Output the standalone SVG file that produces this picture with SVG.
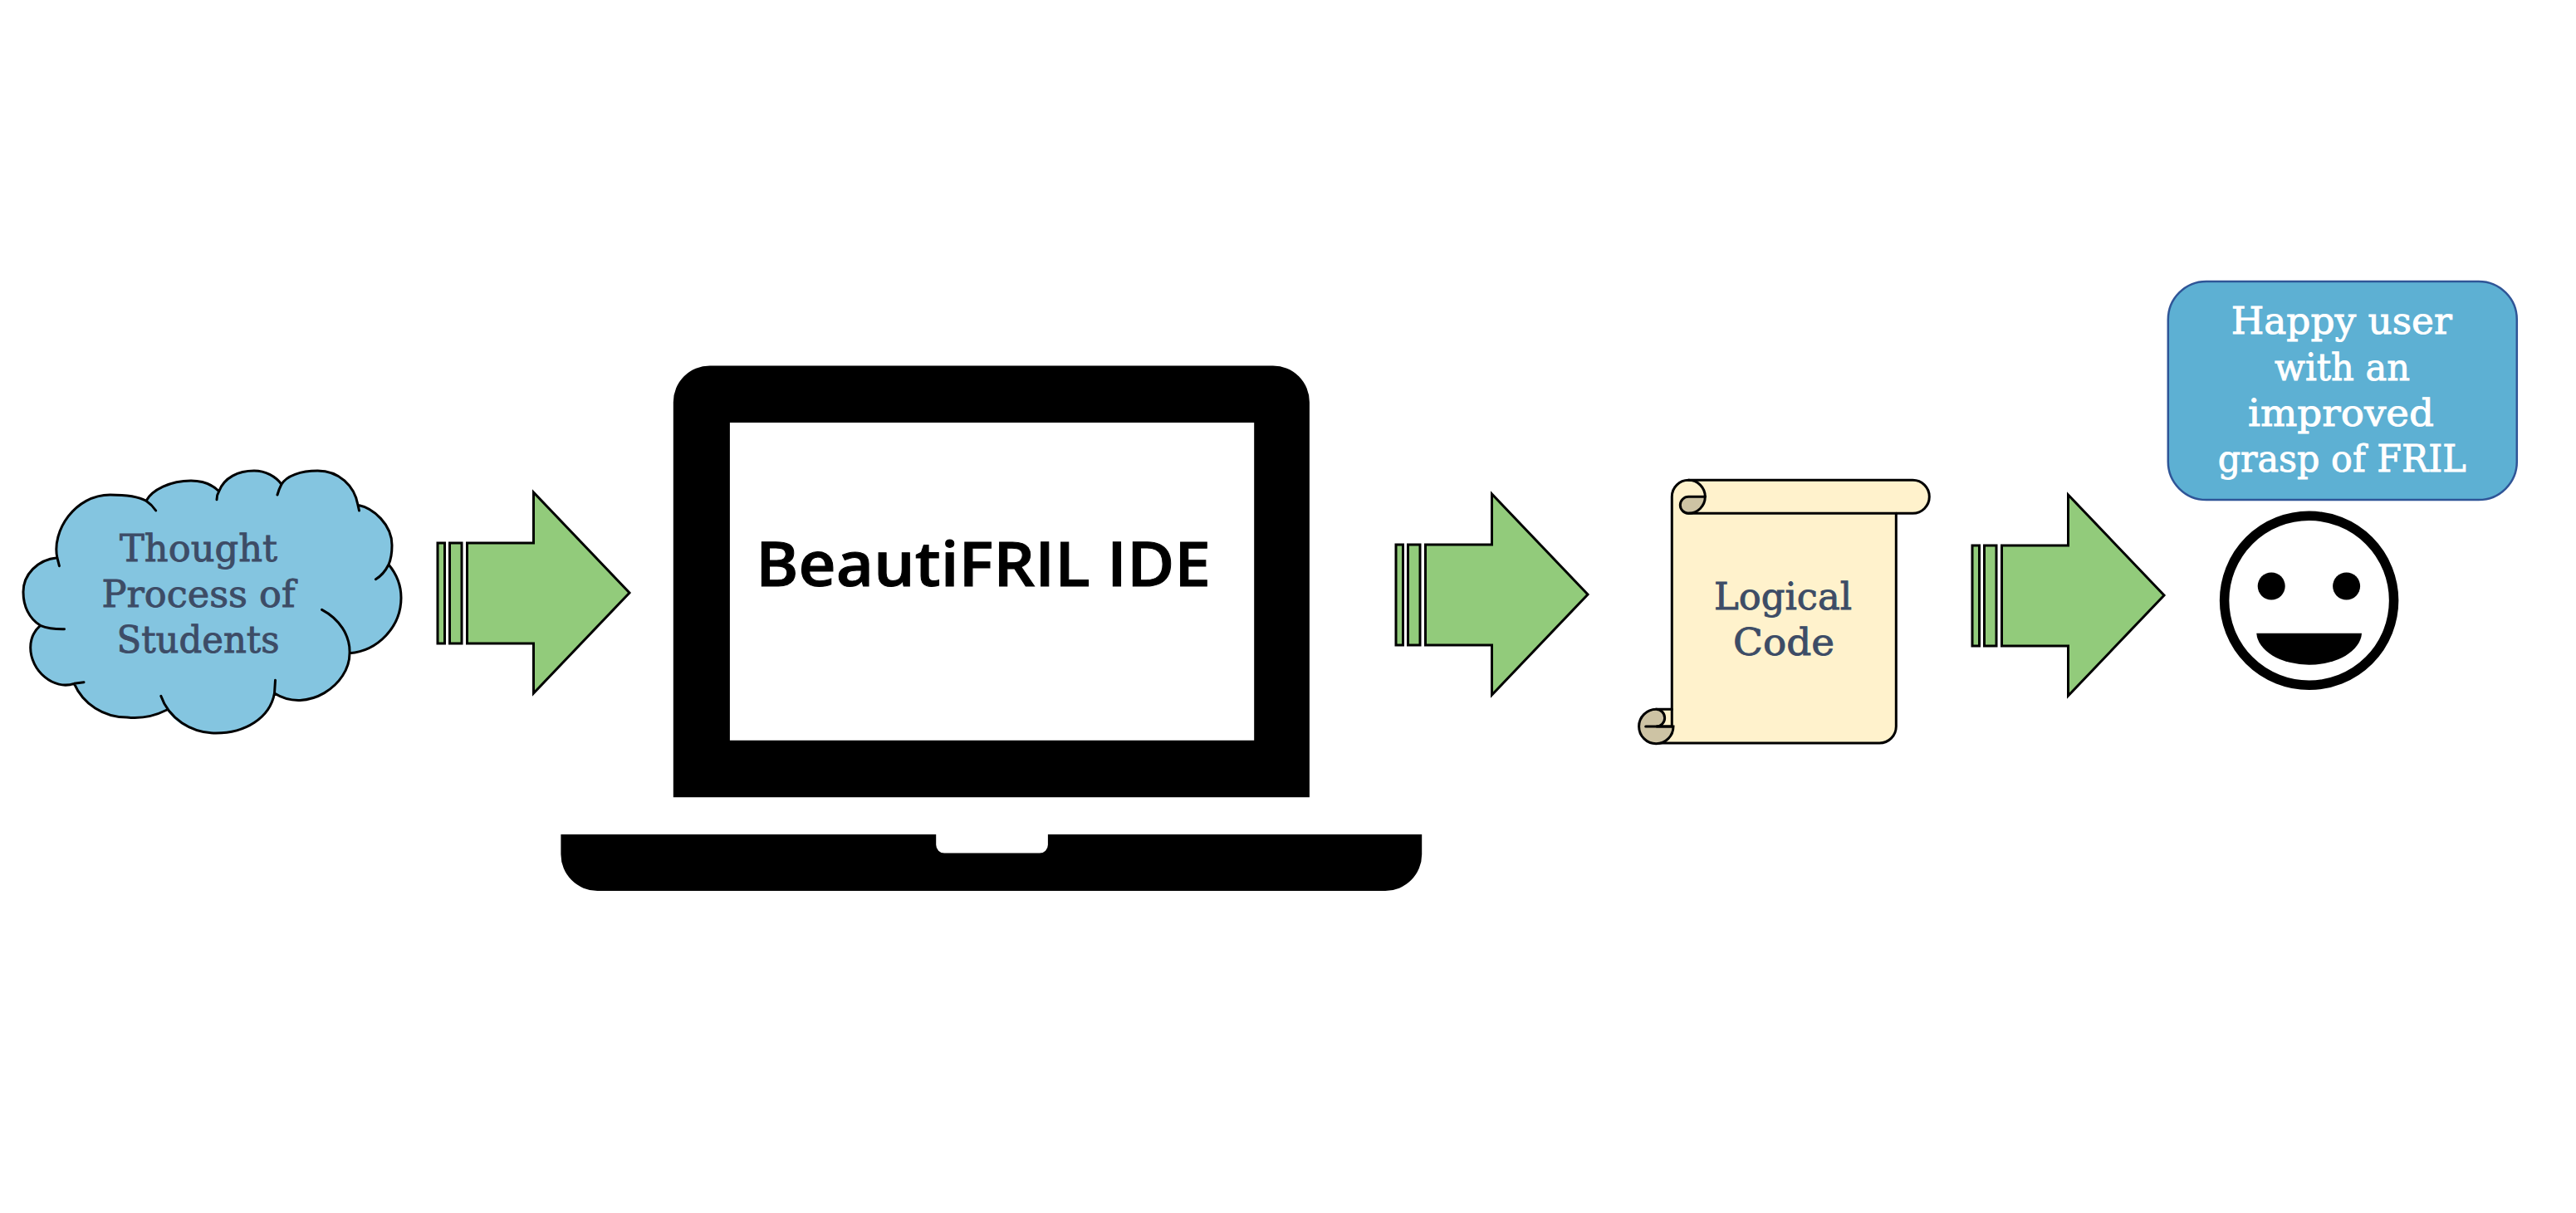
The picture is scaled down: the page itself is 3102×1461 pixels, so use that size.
<svg xmlns="http://www.w3.org/2000/svg" xmlns:xlink="http://www.w3.org/1999/xlink" width="3102" height="1461" viewBox="0 0 3102 1461">
<style>
.slab{font-family:"DejaVu Serif","Liberation Serif",serif;font-size:44px;text-anchor:middle;stroke-width:.9}
.dark{fill:#3d4c66;stroke:#3d4c66}
.light{fill:#fff;stroke:#fff}
.ln{fill:none;stroke:#000;stroke-width:3;stroke-linecap:round;stroke-linejoin:round}
.arrow{fill:#92cb7b;stroke:#000;stroke-width:3;stroke-linejoin:miter}
.curl{fill:#cdc3a4;stroke:#000;stroke-width:3}
</style>
<defs>
<g id="arrow-shape">
<rect class="arrow" x="527" y="654" width="8.5" height="121"/>
<rect class="arrow" x="541.5" y="654" width="14.5" height="121"/>
<polygon class="arrow" points="562.5,654 642.5,654 642.5,593 758,714 642.5,835 642.5,775 562.5,775"/>
</g>
</defs>
<rect width="3102" height="1461" fill="#fff"/>
<g id="connectors">
<use href="#arrow-shape"/>
<use href="#arrow-shape" transform="translate(1154 2)"/>
<use href="#arrow-shape" transform="translate(1848 3)"/>
</g>
<g id="cloud">
<path fill="#84c5e0" d="M68.9 671.7C62 640 90 596 132.6 596C150 596 165 597 176 603.3C183 590 205 579 230 579C243 579 255 583 263.7 591.7C270 575 287 567 306 567C320 567 332 574 339 583.3C345 573 362 567 382.5 567C408 567 427 585 431 608.3C450 612 472 632 472 656.7C472 666 471 673 468 680C478 692 483 705 483 720C483 755 455 784 421 786.7C421 825 370 860 330.5 835C325 865 295 883 260 883C230 883 210 870 201 855C187 862 170 866 153 864C125 864 100 848 89.3 823.3C65 832 36.7 808 36.7 780C36.7 770 41 760 48.5 753.3C35 745 28 730 28 713C28 692 45 674 68.9 671.7Z"/>
<path class="ln" d="M71.4 681.7L68.9 671.7C62 640 90 596 132.6 596C150 596 165 597 176 603.3Q183 608 187.7 615M176 603.3C183 590 205 579 230 579C243 579 255 583 263.7 591.7Q261 596 261 601.7M263.7 591.7C270 575 287 567 306 567C320 567 332 574 339 583.3Q336 589 334 596M339 583.3C345 573 362 567 382.5 567C408 567 427 585 431 608.3L432.5 615M431 608.3C450 612 472 632 472 656.7C472 666 471 673 468 680Q462 692 452.4 697.7M468 680C478 692 483 705 483 720C483 755 455 784 421 786.7M387.6 734.3C408 745 422 765 421 787C421 825 370 860 330.5 835L331.5 819.3M330.5 835C325 865 295 883 260 883C230 883 203 865 193.8 838.3M201 855C187 862 170 866 153 864C125 864 100 848 89.3 823.3L101 821.7M89.3 823.3C65 832 36.7 808 36.7 780C36.7 770 41 760 48.5 753.3Q60 758 77.5 757.7M48.5 753.3C35 745 28 730 28 713C28 692 45 674 68.9 671.7"/>
<text class="slab dark" x="239" y="675.7" textLength="190" lengthAdjust="spacingAndGlyphs">Thought</text>
<text class="slab dark" x="239" y="730.7" textLength="233" lengthAdjust="spacingAndGlyphs">Process of</text>
<text class="slab dark" x="238.5" y="786" textLength="196" lengthAdjust="spacingAndGlyphs">Students</text>
</g>
<g id="laptop">
<path fill="#000" fill-rule="evenodd" d="M810.8 960.3V484.4A44 44 0 0 1 854.8 440.4H1532.9A44 44 0 0 1 1576.9 484.4V960.3ZM878.9 509V891.8H1510.2V509Z"/>
<path fill="#000" d="M675.4 1005H1127.2V1017.6A10 10 0 0 0 1137.2 1027.6H1251.9A10 10 0 0 0 1261.9 1017.6V1005H1712.2V1029A44 44 0 0 1 1668.2 1073H719.4A44 44 0 0 1 675.4 1029Z"/>
<text x="910" y="705.6" font-family="'Open Sans','Liberation Sans',sans-serif" font-weight="600" font-size="75" stroke="#000" stroke-width="1" textLength="548" lengthAdjust="spacingAndGlyphs" fill="#000">BeautiFRIL IDE</text>
</g>
<g id="scroll">
<path fill="#fff2cc" stroke="#000" stroke-width="3" stroke-linejoin="round" d="M2013.3 598.3A20 20 0 0 1 2033.3 578.3H2303.3A20 20 0 0 1 2303.3 618.3H2283.3V875A20 20 0 0 1 2263.3 895H1994.3A20.7 20.7 0 0 1 1994.3 854.3H2013.3Z"/>
<path class="curl" d="M2033.3 598.3H2053.3A20 20 0 0 1 2033.3 618.3A10 10 0 0 1 2033.3 598.3Z"/>
<path class="ln" d="M2033.3 578.3A20 20 0 0 1 2053.3 598.3M2033.3 618.3H2283.3"/>
<path class="curl" d="M1994.3 854.3A20.7 20.7 0 1 0 2015 875H1994.3A10.3 10.3 0 0 0 1994.3 854.3Z"/>
<path class="ln" d="M1981.7 875H2013.3M2013.3 854.3V875"/>
<text class="slab dark" x="2147" y="734" textLength="166" lengthAdjust="spacingAndGlyphs">Logical</text>
<text class="slab dark" x="2148" y="789.3" textLength="122" lengthAdjust="spacingAndGlyphs">Code</text>
</g>
<g id="bubble">
<rect x="2610.8" y="339" width="420" height="263" rx="46" ry="46" fill="#5db0d3" stroke="#2f5597" stroke-width="2.5"/>
<text class="slab light" x="2819.7" y="401.9" textLength="266" lengthAdjust="spacingAndGlyphs">Happy user</text>
<text class="slab light" x="2820.5" y="457.6" textLength="163" lengthAdjust="spacingAndGlyphs">with an</text>
<text class="slab light" x="2819" y="512.6" textLength="224" lengthAdjust="spacingAndGlyphs">improved</text>
<text class="slab light" x="2820.2" y="567.7" textLength="299" lengthAdjust="spacingAndGlyphs">grasp of FRIL</text>
</g>
<g id="smiley">
<ellipse cx="2780.6" cy="723.3" rx="102" ry="102" fill="#fff" stroke="#000" stroke-width="11.5"/>
<circle cx="2735.2" cy="706" r="16.5" fill="#000"/>
<circle cx="2825.6" cy="706" r="16.5" fill="#000"/>
<path fill="#000" d="M2717.3 762.7H2844A63.4 39.6 0 0 1 2717.3 762.7Z"/>
</g>
</svg>
